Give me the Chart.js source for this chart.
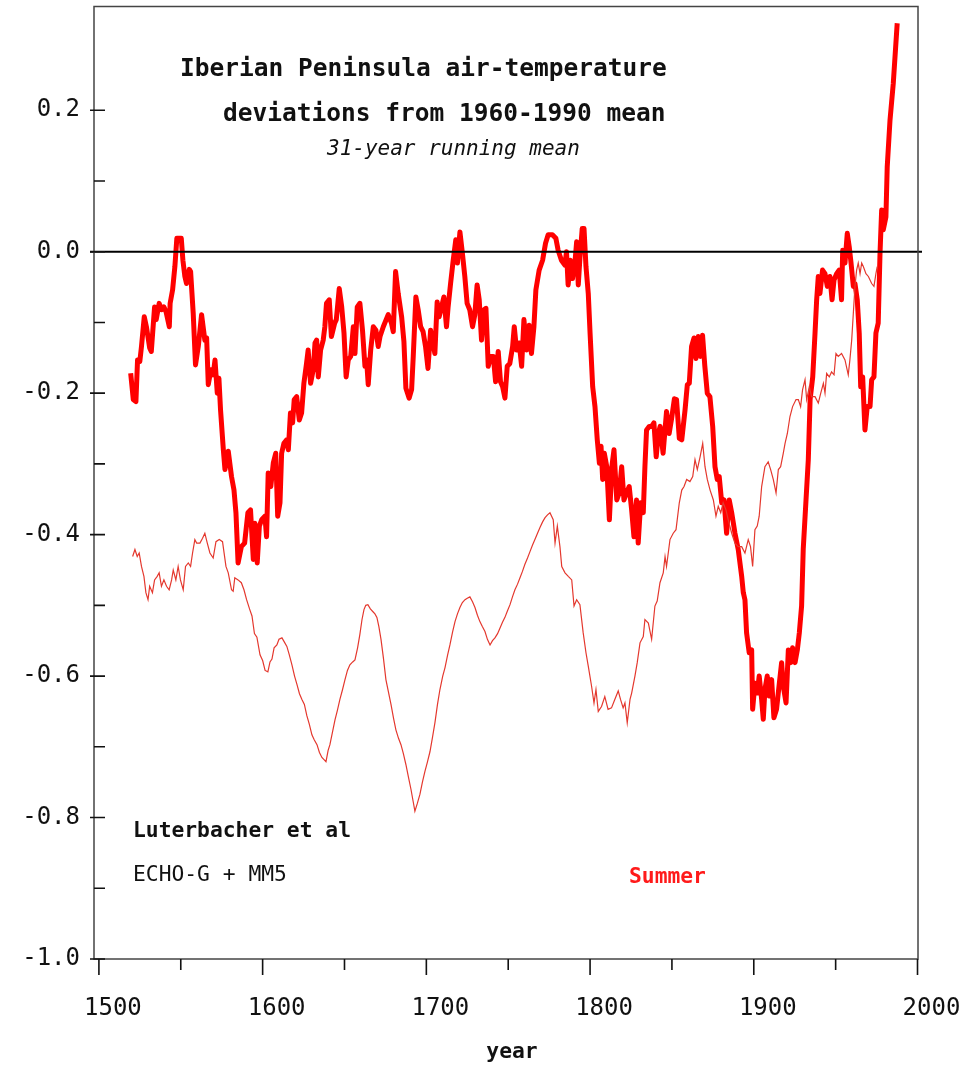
<!DOCTYPE html>
<html>
<head>
<meta charset="utf-8">
<style>
html,body{margin:0;padding:0;background:#fff;}
#c{display:block;}
</style>
<script src="https://cdn.jsdelivr.net/npm/chart.js@4.4.1/dist/chart.umd.min.js"></script>
</head>
<body>
<canvas id="c" width="976" height="1065"></canvas>
<script>
// ---- Data ----
const summerYears = [1519.4,1521,1522.6,1523.6,1525,1526,1527.7,1529,1531,1532,1534,1535,1536.8,1538.3,1539.7,1541,1543,1543.5,1545,1546.4,1547.6,1550.3,1551.3,1552.5,1553.5,1555.2,1556,1557.6,1559,1560.7,1562.7,1564.7,1565.8,1566.8,1568.4,1569.8,1570.9,1572.3,1573.3,1574.3,1576,1577,1579,1581,1582.5,1583.7,1585,1587,1589,1591,1592.6,1594.3,1595.3,1596.7,1598,1599.4,1601.4,1602.4,1603.4,1605,1606.5,1608,1609.2,1610.6,1611.6,1613,1614.7,1615.7,1617,1618.3,1619.3,1620.8,1622.4,1623.8,1625.2,1626.8,1627.8,1629.3,1630.9,1632,1633,1634,1635.4,1637,1638,1639,1640.7,1642,1644,1645,1646.8,1648.3,1649.7,1651,1652.3,1653.8,1655.4,1656.4,1657.8,1659.4,1661,1662.5,1663.5,1664.5,1666,1667.6,1669.2,1670.6,1671.7,1673.7,1676.7,1678.7,1679.8,1681.2,1682.8,1684.9,1686.3,1687.5,1689.5,1691,1692,1693.6,1695,1696.5,1698,1699.5,1701,1702.6,1703.8,1705.2,1706.6,1707.8,1709.3,1710.7,1712.3,1713.3,1714.8,1716.4,1718,1719,1720.5,1722,1723.5,1724.9,1726.5,1728.2,1729.6,1731,1732.3,1733.7,1735.2,1736.4,1737.8,1739.3,1740.9,1742.3,1743.9,1745.3,1746.6,1748,1749.4,1751,1752.7,1753.7,1755.1,1756.7,1758.2,1759.6,1761.3,1762.8,1764.2,1765.7,1766.9,1768.9,1771,1772.8,1774.4,1777,1779.1,1780.5,1782.5,1784.6,1785.6,1786.6,1788,1789.3,1790.8,1791.8,1792.8,1793.8,1795.2,1796.3,1797.5,1798.9,1800,1801.6,1803,1804.4,1805.7,1806.7,1807.7,1808.7,1810.2,1811.8,1813.3,1814.6,1816.3,1817.8,1819.3,1820.7,1822.3,1823.9,1825.4,1826.8,1828.4,1829.4,1830.9,1832.5,1833.5,1834.5,1836.2,1837.6,1839,1840.4,1841.7,1842.8,1844.6,1846.7,1848.3,1849.8,1851.5,1852.8,1854.5,1856,1858,1859.4,1860.6,1862,1863.5,1864.7,1866.1,1867.6,1868.7,1870.1,1871.6,1873.2,1874.9,1876.3,1877.7,1878.9,1880.4,1881.8,1883.4,1885,1886.5,1888.5,1890.5,1892.6,1893.6,1894.6,1895.6,1897.2,1898.7,1899.3,1900.7,1902.1,1903.3,1904.8,1905.8,1906.8,1908.2,1909.4,1910.9,1912.3,1913.9,1915.6,1917,1918,1919.7,1921.1,1922.5,1923.7,1925.2,1926.6,1927.8,1929.2,1930.2,1931.9,1933.3,1934.4,1936,1937.4,1938.4,1939.4,1940.4,1942,1943.5,1944.9,1946.5,1947.8,1949,1950.6,1952.2,1953.6,1954.3,1955.7,1957.1,1958.3,1959.4,1960.8,1961.8,1963.2,1964.4,1965.3,1966.5,1967.9,1969.3,1971,1972,1973.4,1974.6,1976,1977.1,1978.1,1979.1,1980.7,1981.5,1983.2,1985.2,1987.6];
const summerValues = [-0.172,-0.209,-0.212,-0.153,-0.155,-0.134,-0.092,-0.106,-0.136,-0.141,-0.078,-0.096,-0.073,-0.082,-0.078,-0.085,-0.106,-0.073,-0.054,-0.021,0.019,0.019,-0.012,-0.035,-0.045,-0.025,-0.028,-0.087,-0.160,-0.134,-0.089,-0.125,-0.122,-0.188,-0.167,-0.174,-0.153,-0.200,-0.179,-0.224,-0.280,-0.308,-0.282,-0.318,-0.337,-0.369,-0.440,-0.417,-0.412,-0.369,-0.365,-0.435,-0.384,-0.440,-0.388,-0.379,-0.374,-0.403,-0.313,-0.332,-0.299,-0.285,-0.374,-0.355,-0.285,-0.271,-0.266,-0.280,-0.228,-0.242,-0.209,-0.205,-0.238,-0.228,-0.186,-0.158,-0.139,-0.186,-0.167,-0.129,-0.125,-0.177,-0.139,-0.125,-0.106,-0.073,-0.068,-0.120,-0.101,-0.096,-0.052,-0.078,-0.115,-0.177,-0.153,-0.148,-0.106,-0.144,-0.078,-0.073,-0.111,-0.162,-0.153,-0.188,-0.139,-0.106,-0.111,-0.134,-0.120,-0.106,-0.089,-0.101,-0.113,-0.028,-0.059,-0.092,-0.127,-0.193,-0.207,-0.195,-0.148,-0.064,-0.082,-0.106,-0.113,-0.134,-0.165,-0.111,-0.127,-0.144,-0.071,-0.092,-0.078,-0.064,-0.106,-0.078,-0.045,-0.012,0.017,-0.016,0.028,-0.002,-0.035,-0.073,-0.082,-0.106,-0.089,-0.047,-0.068,-0.125,-0.082,-0.080,-0.162,-0.148,-0.148,-0.184,-0.141,-0.184,-0.191,-0.207,-0.162,-0.158,-0.134,-0.106,-0.139,-0.129,-0.162,-0.096,-0.139,-0.104,-0.144,-0.106,-0.054,-0.026,-0.012,0.012,0.024,0.024,0.019,0.002,-0.012,-0.019,0.000,-0.047,-0.012,-0.038,-0.014,0.014,-0.047,-0.009,0.033,0.033,-0.021,-0.059,-0.115,-0.191,-0.219,-0.266,-0.299,-0.275,-0.322,-0.285,-0.304,-0.379,-0.304,-0.280,-0.351,-0.341,-0.304,-0.351,-0.341,-0.332,-0.365,-0.403,-0.351,-0.412,-0.355,-0.369,-0.304,-0.252,-0.247,-0.247,-0.242,-0.290,-0.257,-0.247,-0.285,-0.226,-0.257,-0.236,-0.208,-0.209,-0.264,-0.266,-0.224,-0.188,-0.186,-0.134,-0.122,-0.151,-0.120,-0.148,-0.118,-0.162,-0.200,-0.205,-0.247,-0.304,-0.322,-0.318,-0.355,-0.351,-0.398,-0.351,-0.369,-0.398,-0.421,-0.459,-0.482,-0.492,-0.539,-0.567,-0.563,-0.647,-0.610,-0.624,-0.600,-0.633,-0.661,-0.619,-0.600,-0.628,-0.605,-0.659,-0.647,-0.610,-0.581,-0.614,-0.638,-0.563,-0.581,-0.560,-0.581,-0.563,-0.539,-0.501,-0.421,-0.351,-0.294,-0.209,-0.177,-0.115,-0.068,-0.035,-0.059,-0.026,-0.031,-0.049,-0.035,-0.068,-0.040,-0.031,-0.026,-0.068,0.002,-0.016,0.026,0.007,-0.016,-0.049,-0.045,-0.068,-0.115,-0.191,-0.177,-0.252,-0.219,-0.219,-0.181,-0.177,-0.115,-0.101,-0.002,0.059,0.031,0.049,0.120,0.186,0.238,0.323];

const modelYears = [1520.6,1522,1523.4,1524.6,1526,1527.5,1528.7,1530,1531,1532.7,1534,1535.6,1536.8,1538.2,1539.7,1541.3,1542.9,1544.4,1545.4,1547,1548.4,1549.8,1551.5,1552.9,1554.6,1556,1557.2,1558.6,1559.7,1561.7,1563.3,1564.7,1566.2,1567.8,1569.8,1571.5,1573.5,1575.5,1577.6,1579,1581,1582,1583,1585,1587,1588.6,1590.2,1592,1593.5,1595,1596.5,1598.4,1600,1601.5,1603.2,1604.5,1605.7,1607,1608.7,1610,1611.8,1613.3,1614.8,1616.3,1617.9,1619.5,1621,1622.5,1624,1625.5,1627,1628.5,1630.1,1631.5,1633.2,1634.7,1636.2,1637.5,1638.7,1640,1641.1,1642.6,1644.2,1645.7,1647.2,1648.7,1650.3,1651.8,1653.3,1655,1656.4,1658,1659.4,1660.7,1661.9,1663,1664.3,1665.8,1667.4,1668.6,1669.8,1671,1672.3,1673.8,1675.3,1676.8,1678.4,1680,1681.4,1683,1684.5,1686,1687.5,1689,1690.6,1692,1693,1694.5,1696.1,1697.6,1699.1,1700.6,1702.2,1703.8,1705.3,1706.8,1708.3,1710,1711.4,1713,1714.4,1716,1717.5,1719,1720.5,1722,1723.6,1725,1726.6,1728.2,1729.7,1731.2,1732.7,1734.2,1735.8,1737.3,1738.9,1740.4,1741.9,1743.5,1745,1746.5,1748,1749.5,1751.1,1752.6,1754.1,1755.7,1757.2,1758.7,1760.2,1761.8,1763.3,1764.8,1766.3,1767.9,1769.4,1771,1772.5,1774,1775.5,1777.5,1778.6,1780,1781.6,1782.7,1784.7,1786.7,1788.8,1790.2,1791.8,1793.8,1795.8,1797.5,1798.9,1800.9,1802.4,1803.6,1805,1807,1809,1811,1813.1,1815.1,1817.2,1818.6,1820.2,1821.3,1822.7,1824.4,1825.4,1827.4,1828.8,1830.5,1832.5,1833.5,1835.6,1837.6,1839.6,1841,1842.7,1844.7,1845.8,1846.7,1848.8,1850.8,1852.5,1854.5,1856,1857.4,1859,1861,1862.7,1864.1,1865.5,1867.2,1868.8,1870.2,1871.6,1873.3,1875.3,1876.9,1878.3,1879.8,1881.3,1883,1884.4,1886.5,1888.5,1890.5,1892.6,1894.6,1896.6,1898,1899.3,1900.7,1902.1,1903.3,1904.8,1906.8,1908.8,1910.3,1911.9,1913.6,1915,1916.4,1918,1919.1,1920.5,1922.1,1923.7,1925.8,1927.2,1928.6,1929.8,1931.3,1932.3,1933.9,1935.3,1937.4,1939.4,1940.9,1942.5,1943.5,1944.5,1946.1,1947.5,1949,1950.2,1951.6,1953.6,1955.7,1957.7,1958.7,1959.8,1960.8,1961.8,1962.8,1963.8,1964.9,1965.9,1966.9,1968.5,1970,1972,1973.4,1974.6,1975.4];
const modelValues = [-0.431,-0.421,-0.431,-0.426,-0.445,-0.459,-0.482,-0.492,-0.473,-0.482,-0.464,-0.459,-0.454,-0.473,-0.464,-0.473,-0.478,-0.464,-0.450,-0.464,-0.445,-0.464,-0.478,-0.445,-0.440,-0.445,-0.426,-0.407,-0.412,-0.412,-0.405,-0.398,-0.412,-0.426,-0.433,-0.410,-0.407,-0.410,-0.445,-0.454,-0.478,-0.480,-0.461,-0.464,-0.468,-0.478,-0.492,-0.505,-0.515,-0.540,-0.545,-0.570,-0.578,-0.592,-0.594,-0.580,-0.576,-0.560,-0.556,-0.548,-0.546,-0.552,-0.558,-0.570,-0.584,-0.600,-0.612,-0.625,-0.633,-0.640,-0.656,-0.668,-0.683,-0.690,-0.697,-0.708,-0.715,-0.718,-0.721,-0.705,-0.697,-0.680,-0.662,-0.648,-0.633,-0.620,-0.605,-0.592,-0.584,-0.580,-0.577,-0.560,-0.541,-0.520,-0.506,-0.500,-0.499,-0.505,-0.509,-0.512,-0.517,-0.530,-0.548,-0.575,-0.605,-0.622,-0.640,-0.660,-0.676,-0.688,-0.697,-0.710,-0.725,-0.742,-0.760,-0.778,-0.791,-0.780,-0.767,-0.750,-0.735,-0.722,-0.707,-0.686,-0.665,-0.640,-0.619,-0.600,-0.588,-0.570,-0.556,-0.538,-0.523,-0.512,-0.503,-0.496,-0.492,-0.490,-0.488,-0.495,-0.503,-0.514,-0.523,-0.530,-0.537,-0.548,-0.556,-0.550,-0.546,-0.540,-0.532,-0.524,-0.517,-0.508,-0.499,-0.488,-0.478,-0.470,-0.461,-0.452,-0.442,-0.433,-0.424,-0.415,-0.407,-0.398,-0.390,-0.382,-0.376,-0.372,-0.369,-0.379,-0.412,-0.388,-0.417,-0.445,-0.454,-0.459,-0.464,-0.501,-0.492,-0.499,-0.539,-0.567,-0.586,-0.614,-0.638,-0.619,-0.650,-0.643,-0.629,-0.647,-0.645,-0.633,-0.621,-0.633,-0.645,-0.638,-0.666,-0.633,-0.624,-0.600,-0.581,-0.553,-0.544,-0.520,-0.525,-0.548,-0.501,-0.494,-0.468,-0.454,-0.431,-0.445,-0.407,-0.398,-0.393,-0.355,-0.337,-0.332,-0.322,-0.325,-0.318,-0.294,-0.308,-0.290,-0.271,-0.304,-0.322,-0.337,-0.351,-0.374,-0.360,-0.369,-0.355,-0.365,-0.379,-0.398,-0.412,-0.417,-0.417,-0.426,-0.407,-0.417,-0.445,-0.393,-0.388,-0.374,-0.332,-0.304,-0.297,-0.308,-0.322,-0.341,-0.308,-0.304,-0.285,-0.271,-0.257,-0.233,-0.219,-0.209,-0.209,-0.219,-0.195,-0.181,-0.209,-0.191,-0.205,-0.205,-0.214,-0.200,-0.186,-0.200,-0.172,-0.177,-0.170,-0.174,-0.144,-0.148,-0.144,-0.153,-0.174,-0.153,-0.125,-0.087,-0.049,-0.026,-0.016,-0.031,-0.016,-0.021,-0.031,-0.035,-0.045,-0.049,-0.031,-0.021];

const yTickValues = [-1.0,-0.8,-0.6,-0.4,-0.2,0.0,0.2];
const yMinorTickValues = [-0.9,-0.7,-0.5,-0.3,-0.1,0.1];
const xTickValues = [1500,1600,1700,1800,1900,2000];
const xMinorTickValues = [1550,1650,1750,1850,1950];

const titleLines = ['Iberian Peninsula air-temperature','deviations from 1960-1990 mean'];
const subtitleText = '31-year running mean';
const sourceText = 'Luterbacher et al';
const modelText = 'ECHO-G + MM5';
const seasonText = 'Summer';
const xAxisTitle = 'year';

// ---- Chart ----
const MONO = '"DejaVu Sans Mono", "Liberation Mono", monospace';

const framePlugin = {
  id: 'framePlugin',
  afterDatasetsDraw(chart) {
    const {ctx, chartArea: a, scales} = chart;
    const xs = scales.x, ys = scales.y;
    ctx.save();
    // zero line
    const y0 = ys.getPixelForValue(0);
    ctx.strokeStyle = '#000';
    ctx.lineWidth = 2;
    ctx.beginPath();
    ctx.moveTo(a.left - 4, y0);
    ctx.lineTo(a.right + 4, y0);
    ctx.stroke();
    // frame
    ctx.strokeStyle = '#444';
    ctx.lineWidth = 1.5;
    ctx.strokeRect(a.left, a.top, a.right - a.left, a.bottom - a.top);
    // y ticks
    ctx.strokeStyle = '#111';
    ctx.lineWidth = 1.6;
    ctx.beginPath();
    yTickValues.forEach(v => {
      const p = ys.getPixelForValue(v);
      ctx.moveTo(a.left - 4, p); ctx.lineTo(a.left + 11, p);
    });
    yMinorTickValues.forEach(v => {
      const p = ys.getPixelForValue(v);
      ctx.moveTo(a.left, p); ctx.lineTo(a.left + 11, p);
    });
    // x ticks
    xTickValues.forEach(v => {
      const p = xs.getPixelForValue(v);
      ctx.moveTo(p, a.bottom); ctx.lineTo(p, a.bottom + 16);
    });
    xMinorTickValues.forEach(v => {
      const p = xs.getPixelForValue(v);
      ctx.moveTo(p, a.bottom); ctx.lineTo(p, a.bottom + 11);
    });
    ctx.stroke();

    // texts
    ctx.fillStyle = '#111';
    ctx.textBaseline = 'alphabetic';
    ctx.textAlign = 'left';
    ctx.font = 'bold 24.5px ' + MONO;
    ctx.fillText(titleLines[0], 180, 76);
    ctx.fillText(titleLines[1], 223, 121);
    ctx.font = 'italic 21px ' + MONO;
    ctx.fillText(subtitleText, 327, 155);
    ctx.font = 'bold 21.3px ' + MONO;
    ctx.fillText(sourceText, 133, 837);
    ctx.font = '21.3px ' + MONO;
    ctx.fillText(modelText, 133, 881);
    ctx.font = 'bold 21.3px ' + MONO;
    ctx.fillStyle = '#ff1a1a';
    ctx.fillText(seasonText, 629, 883);
    ctx.fillStyle = '#111';
    ctx.textAlign = 'center';
    ctx.fillText(xAxisTitle, 512, 1058);
    ctx.restore();
  }
};

new Chart(document.getElementById('c'), {
  type: 'line',
  data: {
    datasets: [
      {
        label: 'ECHO-G + MM5',
        data: modelYears.map((yr, i) => ({x: yr, y: modelValues[i]})),
        borderColor: '#e4382e',
        borderWidth: 1.2,
        pointRadius: 0,
        tension: 0,
        fill: false
      },
      {
        label: 'Luterbacher et al',
        data: summerYears.map((yr, i) => ({x: yr, y: summerValues[i]})),
        borderColor: '#ff0000',
        borderWidth: 5,
        borderJoinStyle: 'round',
        pointRadius: 0,
        tension: 0,
        fill: false
      }
    ]
  },
  options: {
    responsive: false,
    animation: false,
    devicePixelRatio: 1,
    layout: {padding: {left: 0, top: 6.5, right: 58, bottom: 0}},
    plugins: {legend: {display: false}, tooltip: {enabled: false}, title: {display: false}},
    scales: {
      x: {
        type: 'linear',
        min: 1497,
        max: 2000.3,
        grid: {display: false, drawTicks: false},
        border: {display: false},
        afterBuildTicks: s => { s.ticks = xTickValues.map(v => ({value: v})); },
        afterFit: s => { s.height = 106; s.paddingLeft = 0; s.paddingRight = 0; },
        ticks: {
          autoSkip: false,
          maxRotation: 0,
          padding: 35,
          labelOffset: 14,
          color: '#111',
          font: {family: MONO, size: 24},
          callback: v => String(v)
        }
      },
      y: {
        type: 'linear',
        min: -1.0,
        max: 0.3467,
        grid: {display: false, drawTicks: false},
        border: {display: false},
        afterBuildTicks: s => { s.ticks = yTickValues.map(v => ({value: v})); },
        afterFit: s => { s.width = 94; s.paddingTop = 0; s.paddingBottom = 0; },
        ticks: {
          padding: 14,
          color: '#111',
          font: {family: MONO, size: 24},
          callback: v => Number(v).toFixed(1)
        }
      }
    }
  },
  plugins: [framePlugin]
});
</script>
</body>
</html>
